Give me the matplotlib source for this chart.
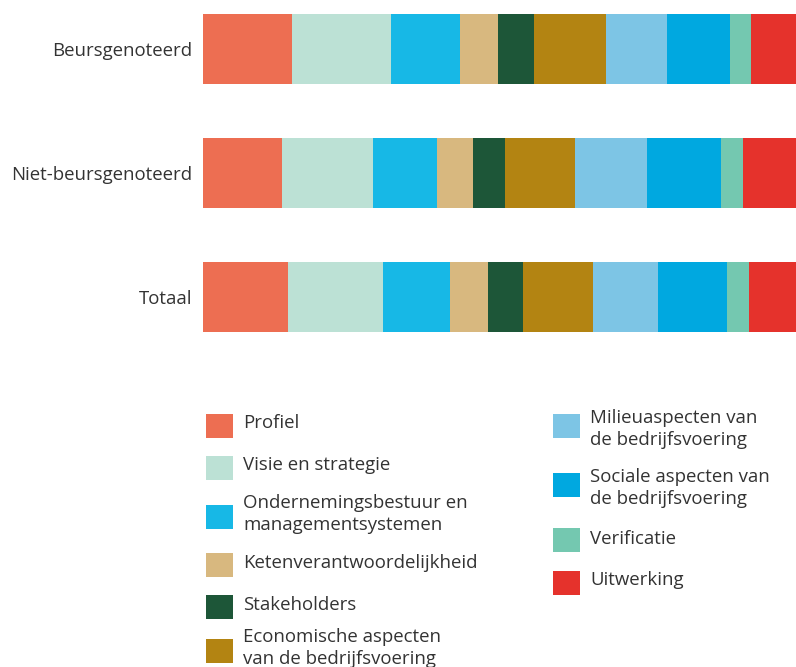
import matplotlib
matplotlib.use("Agg")
import matplotlib.pyplot as plt
from matplotlib.patches import Rectangle

plt.rcParams['font.family'] = ['Open Sans', 'DejaVu Sans']

groups = ["Beursgenoteerd", "Niet-beursgenoteerd", "Totaal"]
categories = [
    "Profiel",
    "Visie en strategie",
    "Ondernemingsbestuur en\nmanagementsystemen",
    "Ketenverantwoordelijkheid",
    "Stakeholders",
    "Economische aspecten\nvan de bedrijfsvoering",
    "Milieuaspecten van\nde bedrijfsvoering",
    "Sociale aspecten van\nde bedrijfsvoering",
    "Verificatie",
    "Uitwerking",
]
colors = ["#ED6E52", "#BCE1D5", "#17B8E6", "#D8B87F", "#1D5638",
          "#B38412", "#7DC5E5", "#00A8E0", "#74C8B0", "#E5322C"]

# share (%) per category, rows follow groups
beurs = [15.0, 16.7, 11.7, 6.3, 6.2, 12.1, 10.3, 10.6, 3.5, 7.6]
niet_beurs = [13.3, 15.3, 10.8, 6.1, 5.4, 11.8, 12.1, 12.6, 3.7, 8.9]
totaal = [14.3, 16.0, 11.3, 6.4, 5.9, 11.8, 11.1, 11.5, 3.7, 8.0]
values = [beurs, niet_beurs, totaal]

text_color = "#333333"
fs = 13.4
W, H = 796, 667
fig = plt.figure(figsize=(W / 100, H / 100), dpi=100)

# axes spans bar area in pixels: x 203..796, y 14..332
ax = fig.add_axes([203 / W, (H - 332) / H, (W - 203) / W, 318 / H])
bar_h = 70 / 124
for i, row in enumerate(values):
    left = 0
    for v, c in zip(row, colors):
        ax.barh(i, v, left=left, height=bar_h, color=c, linewidth=0)
        left += v
ax.set_xlim(0, sum(values[0]))
ax.set_ylim(2 + bar_h / 2, -bar_h / 2)
ax.set_yticks(range(len(groups)))
ax.set_yticklabels(groups, fontsize=fs, color=text_color)
ax.tick_params(axis='y', length=0, pad=8)
ax.set_xticks([])
for s in ax.spines.values():
    s.set_visible(False)

# legend drawn by hand in two columns (square centre y in pixels)
legend_pos = [
    (206, 426), (206, 468), (206, 517), (206, 565), (206, 607), (206, 651),
    (553, 426), (553, 485), (553, 540), (553, 583),
]
text_dy = [-3, -3, -3, -2, -2, -3, 3, 3, -1, -3]
for (x, y), lab, c, dy in zip(legend_pos, categories, colors, text_dy):
    fig.patches.append(Rectangle((x / W, (H - y - 12) / H), 27 / W, 24 / H,
                                 transform=fig.transFigure, color=c, linewidth=0))
    fig.text((x + 37) / W, (H - y - dy) / H, lab, fontsize=fs, color=text_color,
             va='center', ha='left', linespacing=1.35)

fig.savefig("out.png", dpi=100)
